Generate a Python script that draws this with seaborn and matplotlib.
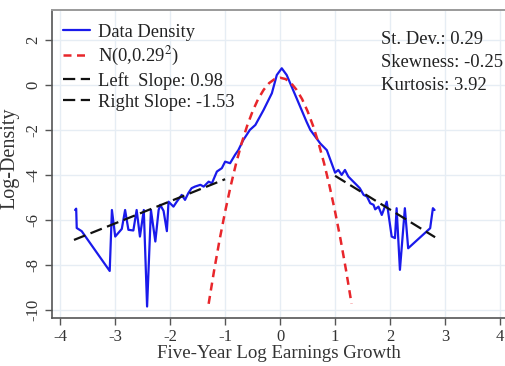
import numpy as np
import pandas as pd
import matplotlib
matplotlib.use("Agg")
import matplotlib.pyplot as plt
import seaborn as sns

# ---- data ----
data_x = [-3.73, -3.71, -3.70, -3.61, -3.10, -3.06, -3.00, -2.88, -2.82, -2.76,
          -2.67, -2.61, -2.55, -2.48, -2.42, -2.35, -2.27, -2.21, -2.18, -2.12,
          -2.06, -2.03, -1.94, -1.88, -1.79, -1.73, -1.67, -1.61, -1.55, -1.45,
          -1.39, -1.30, -1.24, -1.15, -1.06, -1.00, -0.91, -0.82, -0.76, -0.67,
          -0.55, -0.45, -0.30, -0.15, -0.06, 0.03, 0.12, 0.30, 0.48, 0.55,
          0.67, 0.73, 0.85, 1.00, 1.06, 1.12, 1.18, 1.24, 1.30, 1.39,
          1.45, 1.52, 1.58, 1.64, 1.70, 1.73, 1.79, 1.85, 1.94, 2.03,
          2.09, 2.12, 2.18, 2.27, 2.33, 2.73, 2.78, 2.81]
data_y = [-5.56, -5.50, -6.36, -6.50, -8.27, -5.56, -6.74, -6.40, -5.56, -6.44,
          -6.47, -5.56, -6.74, -5.56, -9.85, -5.56, -6.96, -5.56, -5.33, -5.60,
          -6.50, -5.19, -5.41, -5.19, -4.89, -5.11, -4.81, -4.59, -4.52, -4.44,
          -4.52, -4.30, -4.37, -3.85, -3.70, -3.41, -3.48, -3.11, -2.90, -2.45,
          -2.00, -1.78, -1.11, -0.37, 0.44, 0.74, 0.44, -0.59, -1.63, -2.00,
          -2.40, -2.60, -2.90, -3.90, -3.78, -4.00, -3.78, -4.07, -4.22, -4.44,
          -4.59, -4.89, -4.96, -5.26, -5.33, -5.53, -5.41, -5.78, -5.19, -6.74,
          -6.81, -5.48, -8.22, -5.48, -7.26, -6.37, -5.48, -5.56]

norm_x = [-1.3, -1.2, -1.1, -1.0, -0.9, -0.8, -0.7, -0.6, -0.5, -0.4, -0.3, -0.2, -0.1, 0.0,
          0.1, 0.2, 0.3, 0.4, 0.5, 0.6, 0.7, 0.8, 0.9, 1.0, 1.1, 1.2, 1.3]
norm_y = [-9.73, -8.24, -6.87, -5.63, -4.50, -3.48, -2.59, -1.82, -1.17, -0.63, -0.22, 0.08, 0.26, 0.32,
          0.26, 0.08, -0.22, -0.63, -1.17, -1.82, -2.59, -3.48, -4.50, -5.63, -6.87, -8.24, -9.73]

left_x = [-3.75, -1.00]
left_y = [-6.89, -4.19]
right_x = [1.00, 2.82]
right_y = [-4.04, -6.77]

labels = ["Data Density", r"N(0,0.29$^2$)", "Left  Slope: 0.98", "Right Slope: -1.53"]
stats_text = ["St. Dev.: 0.29", "Skewness: -0.25", "Kurtosis: 3.92"]
x_ticks = [-4, -3, -2, -1, 0, 1, 2, 3, 4]
y_ticks = [-10, -8, -6, -4, -2, 0, 2]

# ---- style ----
sns.set_theme(style="whitegrid")
plt.rcParams["font.family"] = ["Liberation Serif", "DejaVu Serif"]
plt.rcParams["mathtext.fontset"] = "stix"

fig = plt.figure(figsize=(5.06, 3.66), dpi=100)
W, H = 506, 366
ax = fig.add_axes([52 / W, 1 - 318 / H, (W - 52) / W, (318 - 10) / H])

sns.lineplot(x=data_x, y=data_y, sort=False, ax=ax, color="#1a1aeb", lw=1.6,
             label=labels[0], estimator=None)
sns.lineplot(x=norm_x, y=norm_y, sort=False, ax=ax, color="#e8262b", lw=1.8,
             label=labels[1], estimator=None)
ax.lines[-1].set_dashes([3.2, 2.2])
sns.lineplot(x=left_x, y=left_y, sort=False, ax=ax, color="#111111", lw=1.6,
             label=labels[2], estimator=None)
ax.lines[-1].set_dashes([5.5, 2.5])
sns.lineplot(x=right_x, y=right_y, sort=False, ax=ax, color="#111111", lw=1.6,
             label=labels[3], estimator=None)
ax.lines[-1].set_dashes([5.5, 2.5])

ax.set_xlim(-4.15, 4.11)
ax.set_ylim(-10.36, 3.33)
ax.set_xticks(x_ticks)
ax.set_yticks(y_ticks)
ax.set_xticklabels([str(t) for t in x_ticks])
ax.set_yticklabels([str(t) for t in y_ticks], rotation=90, va="center")
ax.grid(True, color="#e6edf4", lw=1.0)
ax.set_facecolor("white")

for s in ["left", "bottom"]:
    ax.spines[s].set_visible(True)
    ax.spines[s].set_color("#555555")
    ax.spines[s].set_linewidth(1.2)
ax.spines["top"].set_visible(True)
ax.spines["top"].set_color("#9a9a9a")
ax.spines["top"].set_linewidth(1.4)
ax.spines["right"].set_visible(False)

ax.tick_params(axis="both", which="major", direction="out", length=5, width=1.0,
               color="#555555", labelsize=12, labelcolor="#333333",
               left=True, bottom=True, pad=3)

ax.set_xlabel("Five-Year Log Earnings Growth", fontsize=13.6, color="#333333", va="center")
ax.xaxis.set_label_coords(0.5 - 0.0, (318 - 354) / 308)
ax.set_ylabel("Log-Density", fontsize=14.5, color="#333333", va="center")
ax.yaxis.set_label_coords((10 - 52) / 454, 0.52)

leg = ax.legend(loc="upper left", bbox_to_anchor=(-0.002, 0.995), frameon=False,
                fontsize=13.3, handlelength=1.45, handletextpad=0.45,
                labelspacing=0.22, borderaxespad=0.25)
for t in leg.get_texts():
    t.set_color("#222222")

for i, s in enumerate(stats_text):
    fig.text(381 / W, 1 - (40 + 22.5 * i) / H, s, fontsize=13.4, color="#222222",
             va="center", ha="left")

fig.savefig("out.png", dpi=100)
